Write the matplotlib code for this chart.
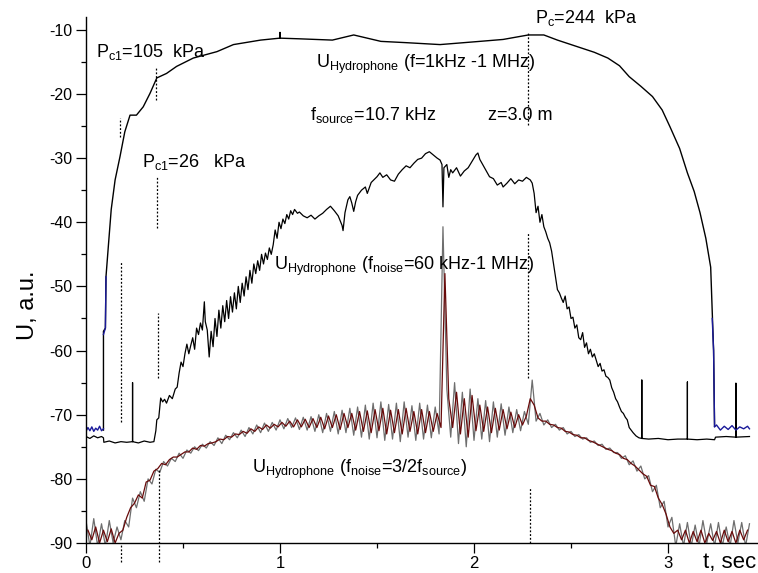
import numpy as np
import matplotlib
matplotlib.use('Agg')
import matplotlib.pyplot as plt
from matplotlib.ticker import MultipleLocator

plt.rcParams['font.family'] = ['Liberation Sans', 'DejaVu Sans']
plt.rcParams['mathtext.fontset'] = 'custom'
plt.rcParams['mathtext.rm'] = 'Liberation Sans'
plt.rcParams['axes.unicode_minus'] = False

# upper curve, U_Hydrophone (f=1kHz-1MHz)
t_up = [0.09, 0.09, 0.10, 0.103, 0.115, 0.13, 0.15, 0.175, 0.2, 0.227, 0.26, 0.295,
        0.33, 0.365, 0.415, 0.467, 0.553, 0.675, 0.76, 0.9, 0.998, 1.0, 1.002, 1.1,
        1.27, 1.38, 1.52, 1.65, 1.825, 2.03, 2.15, 2.28, 2.36, 2.43, 2.55, 2.62, 2.69, 2.75, 2.8,
        2.86, 2.92, 2.97, 3.01, 3.06, 3.1, 3.135, 3.165, 3.195, 3.22, 3.235, 3.24]
v_up = [-72.4, -57.0, -56.5, -48.5, -43.8, -38.0, -33.4, -29.8, -25.9, -23.3, -23.3, -22.0,
        -19.9, -17.5, -16.8, -15.7, -14.4, -13.4, -12.3, -11.6, -11.3, -10.4, -11.3, -11.4,
        -11.6, -10.8, -11.8, -12.0, -12.3, -11.8, -11.5, -10.8, -10.8, -11.6, -12.8, -13.5, -14.4, -15.6, -17.3,
        -18.8, -20.4, -22.5, -25.1, -28.5, -32.3, -35.2, -38.5, -42.5, -47.0, -60.0, -71.8]

# blue pieces of the upper trace
t_blue_a = [0.0, 0.01, 0.02, 0.03, 0.04, 0.05, 0.06, 0.07, 0.08, 0.09]
v_blue_a = [-72.6, -72.0, -72.5, -71.9, -72.6, -72.1, -72.4, -71.8, -72.5, -72.2]
t_blue_b = [3.24, 3.25, 3.27, 3.29, 3.31, 3.33, 3.35, 3.37, 3.39, 3.41, 3.42]
v_blue_b = [-71.9, -71.6, -72.4, -71.8, -72.3, -71.7, -72.4, -71.9, -72.2, -71.8, -72.2]
t_blue_c = [0.09, 0.10, 0.103]
v_blue_c = [-57.5, -56.5, -48.5]
t_blue_d = [3.228, 3.235, 3.24]
v_blue_d = [-55.0, -60.0, -71.8]

# middle curve, U_Hydrophone (f_noise=60kHz-1MHz)
t_mid = [0.0, 0.02, 0.04, 0.06, 0.08, 0.09, 0.092, 0.12, 0.15, 0.18, 0.21, 0.24, 0.24, 0.24,
         0.27, 0.30, 0.33, 0.35, 0.36, 0.365, 0.375, 0.385, 0.395, 0.405, 0.415, 0.43, 0.445,
         0.46, 0.47, 0.48, 0.49, 0.50, 0.51, 0.52, 0.53, 0.54, 0.55, 0.56, 0.57, 0.58, 0.59,
         0.60, 0.61, 0.615, 0.625, 0.635, 0.645, 0.655, 0.665, 0.675, 0.685, 0.695, 0.705,
         0.715, 0.725, 0.735, 0.745, 0.755, 0.765, 0.775, 0.785, 0.795, 0.805, 0.815, 0.825,
         0.835, 0.845, 0.855, 0.865, 0.875, 0.885, 0.895, 0.905, 0.915, 0.925, 0.935, 0.945,
         0.955, 0.965, 0.975, 0.985, 0.995, 1.005, 1.015, 1.025, 1.035, 1.045, 1.055, 1.065,
         1.075, 1.09, 1.10, 1.12, 1.14, 1.16, 1.18, 1.20, 1.22, 1.24, 1.26, 1.28, 1.30, 1.32,
         1.325, 1.335, 1.35, 1.36, 1.37, 1.38, 1.39, 1.40, 1.42, 1.44, 1.45, 1.47, 1.49, 1.50,
         1.515, 1.53, 1.55, 1.57, 1.59, 1.61, 1.63, 1.65, 1.67, 1.69, 1.71, 1.73, 1.75, 1.77,
         1.79, 1.81, 1.825, 1.835, 1.84, 1.845, 1.86, 1.87, 1.88, 1.89, 1.91, 1.93, 1.95, 1.97,
         1.99, 2.01, 2.02, 2.03, 2.045, 2.06, 2.08, 2.10, 2.12, 2.14, 2.15, 2.17, 2.19, 2.21,
         2.23, 2.25, 2.27, 2.29, 2.30, 2.31, 2.32, 2.33, 2.34, 2.35, 2.36, 2.37, 2.38, 2.39,
         2.40, 2.41, 2.42, 2.43, 2.44, 2.45, 2.46, 2.47, 2.48, 2.49, 2.50, 2.51, 2.52, 2.53,
         2.54, 2.55, 2.56, 2.57, 2.58, 2.59, 2.60, 2.61, 2.62, 2.63, 2.64, 2.65, 2.66, 2.67,
         2.68, 2.69, 2.70, 2.71, 2.72, 2.73, 2.74, 2.75, 2.76, 2.77, 2.78, 2.79, 2.80, 2.81,
         2.82, 2.835, 2.85, 2.865, 2.865, 2.865, 2.9, 2.95, 3.0, 3.05, 3.10, 3.10, 3.10,
         3.15, 3.2, 3.24, 3.245, 3.3, 3.35, 3.35, 3.35, 3.42]
v_mid = [-73.4, -73.7, -73.3, -73.6, -73.4, -73.6, -74.3, -74.1, -74.4, -74.2, -74.3, -74.2, -65.0, -74.2,
         -74.4, -74.1, -74.3, -74.2, -72.5, -70.8, -70.5, -67.4, -68.0, -67.6, -68.2, -67.0, -67.5,
         -66.0, -65.7, -63.5, -61.8, -62.5, -60.5, -59.0, -60.5, -59.2, -58.0, -59.8, -56.5, -57.5, -55.7,
         -56.8, -52.4, -55.5, -56.8, -61.0, -57.0, -59.4, -55.0, -57.8, -53.7, -56.5, -53.0,
         -55.5, -52.2, -55.0, -51.6, -54.0, -51.0, -53.5, -50.0, -52.5, -49.5, -51.5, -48.5,
         -50.5, -47.5, -49.5, -46.5, -48.0, -46.0, -47.5, -45.0, -46.5, -44.8, -45.8, -44.0,
         -45.0, -43.5, -41.2, -42.5, -40.0, -41.0, -39.5, -40.2, -38.8, -39.5, -38.2, -38.8,
         -38.0, -38.6, -38.4, -39.0, -39.3, -38.9, -39.5, -39.0, -38.6, -38.0, -37.5, -38.2, -39.0, -40.5,
         -41.3, -38.5, -36.5, -36.0, -37.0, -38.3, -36.8, -35.8, -35.0, -34.5, -35.5, -33.8, -33.2, -32.9,
         -32.3, -33.0, -32.6, -33.4, -33.6, -32.5, -31.8, -31.2, -31.5, -30.8, -30.2, -30.0, -29.3, -29.0,
         -29.5, -30.0, -30.3, -31.0, -37.6, -31.5, -31.0, -33.0, -31.8, -32.3, -31.5, -32.8, -32.0, -31.5,
         -30.5, -29.5, -29.2, -30.2, -31.0, -31.8, -32.9, -33.2, -34.2, -33.8, -34.5, -33.9, -33.2, -34.0,
         -33.4, -33.6, -33.0, -33.4, -33.9, -35.5, -38.5, -37.5, -40.0, -38.8, -40.7, -41.5, -42.5, -43.2,
         -44.5, -46.5, -48.5, -50.5, -51.0, -51.8, -52.5, -51.5, -53.5, -53.2, -55.0, -54.8, -56.5, -56.0,
         -58.0, -58.3, -57.2, -59.5, -58.8, -60.5, -59.8, -61.0, -60.5, -61.5, -62.5, -62.0, -63.2, -63.0,
         -64.0, -64.2, -64.6, -65.8, -66.5, -67.5, -68.0, -68.8, -69.5, -69.8, -70.4, -70.8, -72.0, -72.4,
         -72.8, -73.3, -73.6, -73.7, -64.6, -73.7, -73.8, -73.7, -73.9, -73.8, -73.8, -64.9, -73.8,
         -73.9, -73.8, -73.9, -73.5, -73.4, -73.5, -65.1, -73.5, -73.4]

# lower curve, U_Hydrophone (f_noise=3/2 f_source): grey trace every 0.02 s
t_low = np.round(np.arange(0, 3.43, 0.02), 2)
v_low = [-86.5, -90.5, -86.2, -90.5, -87.0, -90.5, -86.5, -90.0, -87.5, -89.5,
         -86.5, -87.5, -83.0, -84.5, -82.0, -83.5, -80.0, -80.8, -78.5, -79.0,
         -77.3, -78.0, -76.8, -77.3, -76.0, -76.8, -75.5, -76.0, -75.0, -75.6,
         -74.6, -75.2, -74.2, -74.8, -73.6, -74.5, -73.2, -73.9, -72.8, -73.6,
         -72.4, -73.4, -72.0, -73.0, -71.6, -72.8, -71.3, -72.6, -71.2, -72.4,
         -70.8, -72.2, -70.6, -72.0, -70.5, -72.3, -70.4, -72.4, -70.3, -72.6,
         -70.0, -72.8, -69.8, -72.6, -69.5, -73.0, -69.3, -72.8, -69.0, -73.2,
         -68.8, -73.5, -68.5, -73.8, -68.2, -73.6, -68.0, -74.0, -68.4, -73.8,
         -68.2, -74.2, -68.0, -73.5, -68.6, -74.0, -68.2, -73.8, -68.5, -73.6,
         -68.8, -73.0, -40.7, -66.0, -73.5, -65.0, -74.5, -66.5, -75.0, -66.0,
         -74.0, -67.5, -73.8, -67.8, -74.2, -68.0, -73.5, -68.3, -73.2, -68.8,
         -72.8, -69.2, -72.5, -69.5, -71.5, -64.6, -71.0, -69.8, -71.6, -70.8,
         -72.0, -71.5, -72.4, -72.0, -73.0, -72.6, -73.4, -73.1, -73.8, -73.6,
         -74.3, -74.1, -74.8, -74.6, -75.4, -75.2, -75.9, -75.9, -76.8, -76.4,
         -77.8, -77.2, -78.8, -78.0, -80.0, -79.5, -82.0, -81.0, -84.5, -83.5,
         -87.5, -86.0, -90.5, -87.0, -90.5, -86.8, -90.5, -87.2, -90.5, -86.5,
         -90.0, -87.0, -90.5, -86.8, -90.5, -87.5, -90.5, -86.5, -90.0, -86.8,
         -90.5, -87.0]

# dark red trace of the same signal, in between
t_red = np.round(np.arange(0.01, 3.42, 0.02), 2)
v_red = [-88.0, -89.5, -87.5, -90.0, -88.0, -89.8, -87.8, -90.0, -88.5, -88.0,
         -86.0, -84.5, -83.8, -82.5, -83.0, -80.5, -80.2, -78.8, -78.4, -77.6,
         -77.8, -77.0, -76.6, -76.6, -76.2, -75.8, -75.8, -75.2, -75.4, -74.8,
         -74.9, -74.5, -74.4, -74.2, -73.8, -73.9, -73.4, -73.5, -73.0, -73.1,
         -72.6, -72.9, -72.2, -72.6, -71.9, -72.3, -71.6, -72.1, -71.5, -71.9,
         -71.2, -71.8, -71.0, -71.9, -70.8, -71.9, -70.7, -72.0, -70.6, -72.0,
         -70.4, -72.2, -70.2, -72.0, -70.0, -72.3, -69.8, -72.0, -69.8, -72.4,
         -69.5, -72.6, -69.4, -72.8, -69.2, -72.5, -69.0, -73.0, -69.3, -72.8,
         -69.2, -73.0, -69.0, -72.6, -69.5, -73.0, -69.2, -72.8, -69.5, -72.6,
         -69.8, -72.0, -48.0, -67.5, -72.0, -66.5, -73.0, -67.5, -73.5, -67.0,
         -72.5, -68.5, -72.6, -68.8, -72.8, -69.0, -72.4, -69.2, -72.2, -69.6,
         -72.0, -70.0, -71.6, -70.2, -67.5, -68.5, -70.5, -71.0, -71.0, -71.5,
         -71.6, -72.0, -72.1, -72.6, -72.7, -73.1, -73.2, -73.6, -73.6, -74.0,
         -74.2, -74.5, -74.8, -75.1, -75.4, -75.6, -76.0, -76.2, -76.8, -77.0,
         -77.6, -78.0, -78.6, -79.2, -79.6, -81.0, -81.2, -83.0, -84.0, -85.5,
         -87.5, -88.5, -88.0, -89.5, -88.0, -90.0, -88.2, -89.8, -88.0, -90.0,
         -88.5, -89.6, -88.2, -90.0, -88.0, -89.8, -88.2, -90.0, -88.0, -89.5,
         -88.0]

# dotted markers
dash_t = [0.175, 0.181, 0.181, 0.361, 0.366, 0.371, 0.376, 2.28, 2.28, 2.29]
dash_lo = [-26.7, -71.1, -93.0, -20.9, -40.9, -64.3, -93.0, -24.8, -64.3, -90.0]
dash_hi = [-23.7, -46.2, -90.0, -15.8, -32.9, -54.1, -78.6, -10.3, -41.7, -81.3]

fig = plt.figure(figsize=(7.58, 5.73), dpi=100)
ax = fig.add_axes([86 / 758, 1 - 543 / 573, 1 - 86 / 758, (543 - 17) / 573])

ax.plot(t_low, v_low, color='#6e6e6e', lw=0.9)
ax.plot(t_red, v_red, color='#680a0a', lw=0.9)
ax.plot(t_mid, v_mid, color='black', lw=0.9)
ax.plot(t_up, v_up, color='black', lw=1.0)
for tb, vb in [(t_blue_a, v_blue_a), (t_blue_b, v_blue_b), (t_blue_c, v_blue_c), (t_blue_d, v_blue_d)]:
    ax.plot(tb, vb, color='#1a1a9a', lw=1.0)

ax.vlines(dash_t, dash_lo, dash_hi, colors='black', linestyles=(0, (1.5, 1.5)), lw=0.9, clip_on=False)

ax.set_xlim(0, (758 - 86) / 194)
ax.set_ylim(-90, -8)
ax.spines['top'].set_visible(False)
ax.spines['right'].set_visible(False)
ax.spines['left'].set_linewidth(1.0)
ax.spines['bottom'].set_linewidth(1.0)
ax.xaxis.set_major_locator(MultipleLocator(1))
ax.xaxis.set_minor_locator(MultipleLocator(0.5))
ax.yaxis.set_major_locator(MultipleLocator(10))
ax.yaxis.set_minor_locator(MultipleLocator(5))
ax.tick_params(which='major', direction='out', length=7, width=0.9)
ax.tick_params(which='minor', direction='out', length=3.5, width=0.9)
ax.tick_params(axis='x', pad=2.5, labelsize=12)
ax.tick_params(axis='y', pad=3, labelsize=11.5)

fs = 13
ax.text(0.052, -14.2, r'P$_{\mathrm{c1}}$=105  kPa', fontsize=fs)
ax.text(0.289, -31.4, r'P$_{\mathrm{c1}}$=26   kPa', fontsize=fs)
ax.text(2.314, -8.9, r'P$_{\mathrm{c}}$=244  kPa', fontsize=fs, clip_on=False)
ax.text(1.186, -15.9, r'U$_{\mathrm{Hydrophone}}$ (f=1kHz -1 MHz)', fontsize=fs)
ax.text(1.155, -24.0, r'f$_{\mathrm{source}}$=10.7 kHz', fontsize=fs)
ax.text(2.07, -24.0, 'z=3.0 m', fontsize=fs)
ax.text(0.97, -47.4, r'U$_{\mathrm{Hydrophone}}$ (f$_{\mathrm{noise}}$=60 kHz-1 MHz)', fontsize=fs)
ax.text(0.856, -79.1, r'U$_{\mathrm{Hydrophone}}$ (f$_{\mathrm{noise}}$=3/2f$_{\mathrm{source}}$)', fontsize=fs)

fig.text(28 / 758, 1 - 305 / 573, 'U, a.u.', rotation=90, fontsize=17, ha='center', va='center')
fig.text(703 / 758, 1 - 568 / 573, 't, sec', fontsize=16, ha='left', va='baseline')

fig.savefig('out.png', dpi=100)
